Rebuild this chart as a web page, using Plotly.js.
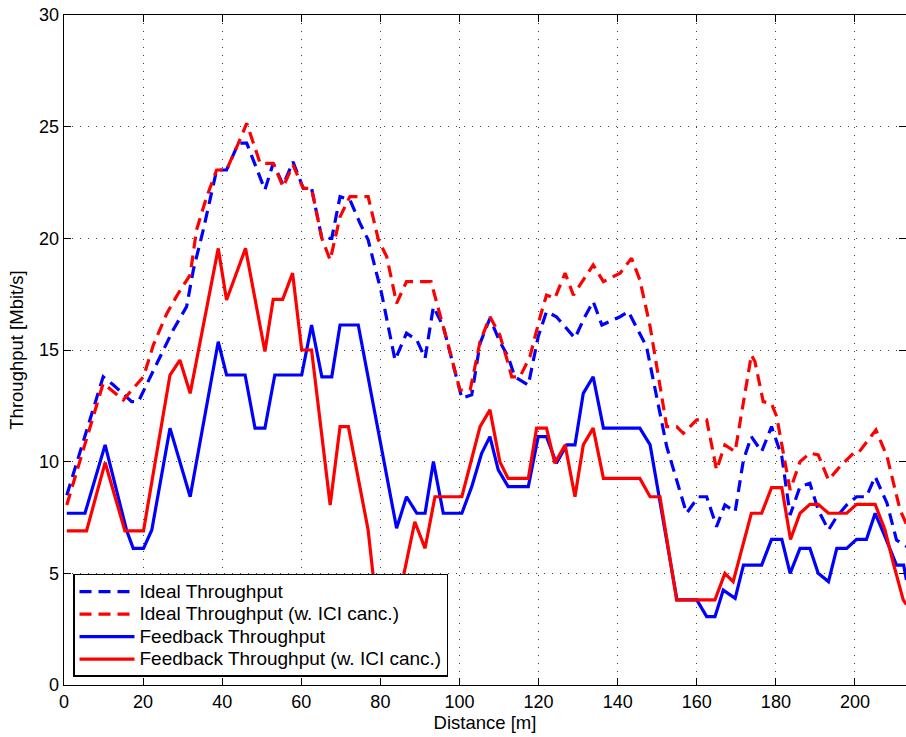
<!DOCTYPE html>
<html>
<head>
<meta charset="utf-8">
<script src="https://cdn.plot.ly/plotly-3.0.1.min.js"></script>
<style>html,body{margin:0;padding:0;background:#fff;}#chart{width:906px;height:737px;}</style>
</head>
<body>
<div id="chart"></div>
<script>
// Ideal Throughput (blue dashed)
var idealX = [0.7, 9.9, 12.5, 17.1, 18.8, 27.6, 31.0, 32.7, 35.2, 38.6, 41.1, 44.1, 46.2, 50.8, 52.9, 55.4, 57.9, 60.5, 62.6, 65.2, 67.7, 69.8, 72.3, 74.8, 76.9, 80.3, 83.7, 86.6, 89.2, 91.3, 93.4, 95.9, 100.6, 103.1, 105.2, 107.7, 110.2, 112.3, 114.0, 117.4, 119.9, 122.0, 124.5, 129.2, 131.7, 133.8, 136.0, 140.6, 142.7, 147.3, 152.4, 157.4, 160.4, 162.5, 165.0, 167.1, 169.7, 171.8, 173.8, 176.4, 178.9, 181.5, 183.6, 186.1, 188.6, 190.7, 193.3, 195.4, 197.9, 200.4, 202.9, 205.1, 208.1, 210.5, 213];
var idealY = [8.5, 13.8, 13.43, 12.69, 12.69, 15.9, 16.94, 18.58, 20.37, 23.06, 23.06, 24.26, 24.26, 22.17, 23.36, 22.39, 23.43, 22.24, 22.24, 20.0, 20.0, 21.87, 21.72, 20.69, 19.93, 17.54, 14.55, 15.75, 15.45, 14.63, 16.94, 16.05, 12.84, 12.99, 15.3, 16.42, 15.37, 14.7, 13.8, 13.43, 15.6, 16.72, 16.49, 15.53, 16.49, 17.17, 16.12, 16.49, 16.72, 15.15, 10.67, 7.69, 8.43, 8.43, 7.09, 8.06, 7.76, 10.08, 11.12, 10.45, 11.57, 10.23, 7.61, 8.88, 9.03, 7.84, 6.94, 7.54, 8.06, 8.43, 8.43, 9.33, 8.14, 6.49, 6.2];

// Ideal Throughput (w. ICI canc.) (red dashed)
var idealIciX = [0.7, 9.9, 12.5, 15.0, 17.1, 20.1, 22.6, 26.0, 28.9, 31.9, 33.5, 36.1, 38.6, 41.1, 44.1, 46.2, 49.6, 52.9, 55.4, 57.9, 60.5, 62.6, 65.2, 67.3, 69.8, 72.3, 76.9, 79.5, 81.6, 84.1, 86.6, 92.8, 97.6, 100.1, 102.7, 105.2, 107.7, 110.2, 112.3, 113.2, 115.3, 117.8, 120.4, 122.0, 124.1, 126.7, 128.8, 131.3, 133.8, 136.4, 140.6, 143.5, 145.6, 148.2, 152.4, 154.9, 156.6, 160.0, 162.5, 165.0, 167.1, 169.7, 173.8, 174.7, 176.8, 178.9, 180.2, 183.6, 186.1, 188.6, 190.7, 193.3, 196.2, 199.6, 200.8, 205.3, 208.1, 211.4, 213];
var idealIciY = [8.06, 13.5, 13.13, 12.76, 13.2, 13.8, 15.23, 16.64, 17.54, 18.36, 20.37, 21.87, 23.06, 23.06, 24.26, 25.15, 23.36, 23.36, 22.3, 23.28, 22.24, 22.24, 20.0, 19.03, 20.97, 21.87, 21.87, 19.93, 19.18, 17.09, 18.06, 18.06, 14.93, 13.21, 13.21, 15.37, 16.49, 15.67, 14.4, 13.8, 13.8, 14.7, 16.49, 17.46, 17.31, 18.44, 17.46, 18.14, 18.81, 18.06, 18.44, 19.11, 18.14, 16.05, 11.57, 11.57, 11.27, 11.87, 11.87, 9.63, 10.75, 10.45, 14.78, 14.48, 12.69, 12.6, 12.02, 8.73, 10.0, 10.38, 10.3, 9.18, 9.78, 10.38, 10.38, 11.42, 10.23, 7.84, 7.2];

// Feedback Throughput (blue solid)
var feedbackX = [0.7, 5.3, 10.4, 15.8, 17.5, 20.1, 22.2, 26.8, 31.9, 39.0, 41.1, 45.8, 48.3, 50.8, 53.3, 60.1, 62.6, 65.2, 67.7, 69.8, 74.4, 84.1, 86.6, 89.2, 91.3, 93.4, 95.9, 100.6, 103.1, 105.6, 107.7, 109.8, 112.3, 117.4, 119.9, 122.0, 124.5, 127.1, 129.2, 131.3, 133.8, 136.4, 145.6, 148.2, 155.0, 160.0, 162.5, 164.6, 166.7, 169.7, 171.8, 176.4, 178.9, 181.5, 183.6, 186.1, 188.6, 190.7, 193.3, 195.4, 197.9, 200.4, 202.9, 205.1, 207.6, 210.5, 212.3, 213];
var feedbackY = [7.69, 7.69, 10.75, 6.94, 6.12, 6.12, 6.94, 11.5, 8.43, 15.37, 13.88, 13.88, 11.5, 11.5, 13.88, 13.88, 16.12, 13.8, 13.8, 16.12, 16.12, 7.02, 8.43, 7.69, 7.69, 10.0, 7.69, 7.69, 8.88, 10.37, 11.12, 9.63, 8.88, 8.88, 11.12, 11.12, 9.93, 10.75, 10.75, 13.06, 13.8, 11.5, 11.5, 10.75, 3.81, 3.81, 3.06, 3.06, 4.25, 3.88, 5.37, 5.37, 6.52, 6.52, 5.0, 6.12, 6.12, 5.0, 4.63, 6.12, 6.12, 6.52, 6.52, 7.69, 6.64, 5.37, 5.37, 4.7];

// Feedback Throughput (w. ICI canc.) (red solid)
var feedbackIciX = [0.7, 5.7, 10.4, 15.4, 20.1, 26.8, 29.3, 31.9, 39.0, 41.1, 45.9, 50.8, 52.9, 55.3, 57.8, 60.1, 62.6, 67.3, 69.8, 71.9, 76.9, 78.2, 80.6, 83.2, 85.8, 88.7, 91.3, 93.8, 100.6, 105.2, 107.7, 110.2, 112.3, 117.4, 119.5, 122.0, 124.1, 126.7, 129.2, 131.3, 133.8, 136.4, 145.6, 148.2, 150.7, 154.9, 164.6, 167.1, 169.2, 173.8, 176.4, 178.9, 181.5, 183.7, 186.1, 188.6, 190.7, 193.3, 197.9, 200.4, 205.1, 207.6, 209.7, 212.2, 213];
var feedbackIciY = [6.9, 6.9, 9.96, 6.9, 6.9, 13.88, 14.55, 13.06, 19.55, 17.24, 19.55, 14.93, 17.27, 17.27, 18.44, 15.0, 15.0, 8.06, 11.57, 11.57, 6.94, 4.85, 2.6, 2.4, 4.85, 7.31, 6.12, 8.43, 8.43, 11.57, 12.32, 10.0, 9.25, 9.25, 11.5, 11.5, 9.93, 10.75, 8.43, 10.75, 11.5, 9.25, 9.25, 8.43, 8.43, 3.81, 3.81, 5.0, 4.63, 7.69, 7.69, 8.84, 8.84, 6.52, 7.69, 8.09, 8.09, 7.69, 7.69, 8.09, 8.09, 6.94, 5.45, 3.81, 3.6];

var seriesNames = ['Ideal Throughput', 'Ideal Throughput (w. ICI canc.)', 'Feedback Throughput', 'Feedback Throughput (w. ICI canc.)'];
var xTickVals = [0, 20, 40, 60, 80, 100, 120, 140, 160, 180, 200];
var yTickVals = [0, 5, 10, 15, 20, 25, 30];

var BLUE = '#0000ff', RED = '#ff0000';
var DASH = '12px,7px';
var FONT = 'Liberation Sans, Arial, sans-serif';
function legendName(s) { return '<span style="font-size:19px">' + s + '</span>'; }

var traces = [
  {x: idealX, y: idealY, name: legendName(seriesNames[0]), mode: 'lines', line: {color: BLUE, width: 3.2, dash: DASH}},
  {x: idealIciX, y: idealIciY, name: legendName(seriesNames[1]), mode: 'lines', line: {color: RED, width: 3.2, dash: DASH}},
  {x: feedbackX, y: feedbackY, name: legendName(seriesNames[2]), mode: 'lines', line: {color: BLUE, width: 3.2}},
  {x: feedbackIciX, y: feedbackIciY, name: legendName(seriesNames[3]), mode: 'lines', line: {color: RED, width: 3.2}}
];

var axisCommon = {
  showline: true, linecolor: '#000', linewidth: 1.3, mirror: 'ticks',
  ticks: 'inside', ticklen: 7, tickcolor: '#000', tickwidth: 1,
  showgrid: true, gridcolor: '#444', griddash: '1px,7px', gridwidth: 1,
  zeroline: false,
  tickfont: {family: FONT, size: 18, color: '#000'}
};

var layout = {
  width: 906, height: 737,
  margin: {l: 64, r: 0, t: 15, b: 52},
  paper_bgcolor: '#fff', plot_bgcolor: '#fff',
  showlegend: true,
  xaxis: Object.assign({}, axisCommon, {
    range: [0, 212.9], tickvals: xTickVals, ticktext: xTickVals.map(String),
    title: {text: 'Distance [m]', font: {family: FONT, size: 18.5, color: '#000'}, standoff: 4}
  }),
  yaxis: Object.assign({}, axisCommon, {
    range: [0, 30], tickvals: yTickVals, ticktext: yTickVals.map(String),
    title: {text: 'Throughput [Mbit/s]', font: {family: FONT, size: 18.5, color: '#000'}, standoff: 10}
  }),
  legend: {
    x: 0.0107, y: 0.012, xanchor: 'left', yanchor: 'bottom',
    bgcolor: '#fff', bordercolor: '#000', borderwidth: 1.5,
    font: {family: FONT, size: 15, color: '#000'},
    tracegroupgap: 0, itemwidth: 55
  }
};

Plotly.newPlot('chart', traces, layout, {displayModeBar: false, staticPlot: true});
</script>
</body>
</html>
